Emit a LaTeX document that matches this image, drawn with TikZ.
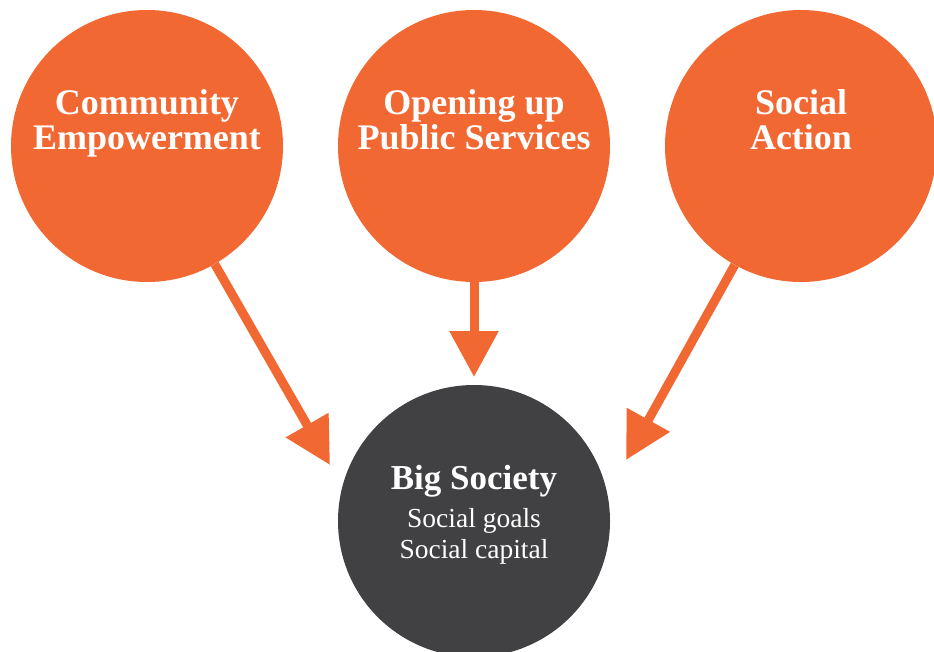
\documentclass[tikz,border=0pt]{standalone}
\usepackage{fontspec}
\setmainfont{Liberation Serif}
\usetikzlibrary{arrows.meta}
\definecolor{orng}{HTML}{F26833}
\definecolor{darkg}{HTML}{414143}
\begin{document}
\begin{tikzpicture}[x=1pt,y=-1pt,
  topc/.style={circle,fill=orng,draw=none,minimum size=272pt,inner sep=0pt},
  botc/.style={circle,fill=darkg,draw=none,minimum size=272pt,inner sep=0pt},
  ttl/.style={anchor=base,inner sep=0pt,text=white,font=\fontsize{36}{36}\selectfont\bfseries},
  btl/.style={anchor=base,inner sep=0pt,text=white,font=\fontsize{35}{35}\selectfont\bfseries},
  sub/.style={anchor=base,inner sep=0pt,text=white,font=\fontsize{27.5}{28}\selectfont},
  arr/.style={draw=orng,line width=9pt,-{Triangle[length=46pt,width=47pt]}}]
\useasboundingbox (0,0) rectangle (934,652);
\clip (0,0) rectangle (934,652);
\node[topc] (c1) at (147,146) {};
\node[topc] (c2) at (474,146) {};
\node[topc] (c3) at (801,146) {};
\node[botc] (bs) at (474,521) {};
\node[ttl] (c1a) at (147,115) {Community};
\node[ttl] (c1b) at (147,150) {Empowerment};
\node[ttl] (c2a) at (474,115) {Opening up};
\node[ttl] (c2b) at (474,150) {Public Services};
\node[ttl] (c3a) at (801,115) {Social};
\node[ttl] (c3b) at (801,150) {Action};
\node[btl] (bsa) at (474,489) {Big Society};
\node[sub] (bsb) at (474,527) {Social goals};
\node[sub] (bsc) at (474,558) {Social capital};
\coordinate (t1) at (330,465);
\coordinate (t2) at (474,377);
\coordinate (t3) at (626,460);
\draw[arr] (c1) -- (t1);
\draw[arr] (c2) -- (t2);
\draw[arr] (c3) -- (t3);
\end{tikzpicture}
\end{document}
